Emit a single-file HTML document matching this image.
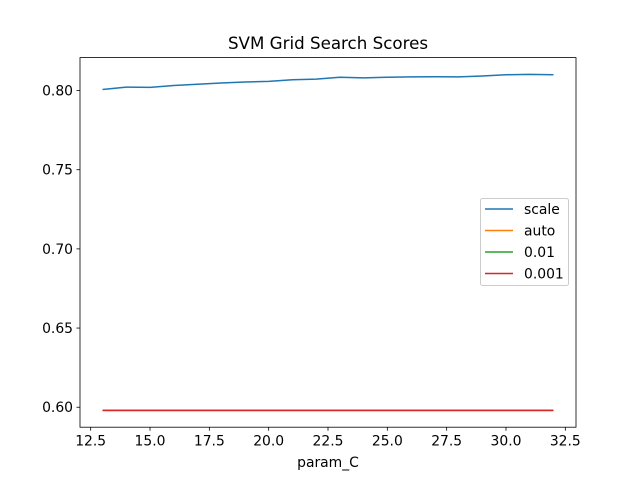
<!DOCTYPE html>
<html><head><meta charset="utf-8"><style>
body{margin:0;background:#fff}
svg text{font-family:"DejaVu Sans","Liberation Sans",sans-serif;fill:#000}
</style></head><body>
<svg id="chart" width="640" height="480" xmlns="http://www.w3.org/2000/svg">
<rect width="640" height="480" fill="#fff"/>
<text x="328" y="49" font-size="16.7" text-anchor="middle">SVM Grid Search Scores</text>
<g id="plot"></g>
<text x="328" y="467" font-size="13.9" text-anchor="middle">param_C</text>
</svg>
<script>
const params = [13,14,15,16,17,18,19,20,21,22,23,24,25,26,27,28,29,30,31,32];
const scaleScores = [0.8007,0.8022,0.8020,0.8032,0.8040,0.8048,0.8054,0.8058,0.8068,0.8072,0.8084,0.8080,0.8084,0.8086,0.8087,0.8086,0.8092,0.8100,0.8102,0.8100];
const autoScores = [0.598,0.598,0.598,0.598,0.598,0.598,0.598,0.598,0.598,0.598,0.598,0.598,0.598,0.598,0.598,0.598,0.598,0.598,0.598,0.598];
const g01Scores = [0.598,0.598,0.598,0.598,0.598,0.598,0.598,0.598,0.598,0.598,0.598,0.598,0.598,0.598,0.598,0.598,0.598,0.598,0.598,0.598];
const g001Scores = [0.598,0.598,0.598,0.598,0.598,0.598,0.598,0.598,0.598,0.598,0.598,0.598,0.598,0.598,0.598,0.598,0.598,0.598,0.598,0.598];
const seriesNames = ["scale","auto","0.01","0.001"];
const xTicks = [12.5,15.0,17.5,20.0,22.5,25.0,27.5,30.0,32.5];
const yTicks = [0.60,0.65,0.70,0.75,0.80];

const NS="http://www.w3.org/2000/svg";
const L=80,R=576,T=57.6,B=427.2;
const all=[].concat(scaleScores,autoScores,g01Scores,g001Scores);
const xmin=Math.min(...params),xmax=Math.max(...params);
const ymin=Math.min(...all),ymax=Math.max(...all);
const x0=xmin-(xmax-xmin)*0.05,x1=xmax+(xmax-xmin)*0.05;
const y0=ymin-(ymax-ymin)*0.05,y1=ymax+(ymax-ymin)*0.05;
const sx=v=>L+(v-x0)/(x1-x0)*(R-L);
const sy=v=>B-(v-y0)/(y1-y0)*(B-T);
const plot=document.getElementById('plot');
function mk(tag,attrs,parent){const e=document.createElementNS(NS,tag);for(const k in attrs)e.setAttribute(k,attrs[k]);(parent||plot).appendChild(e);return e;}
const colors=["#1f77b4","#ff7f0e","#2ca02c","#d62728"];
const series=[scaleScores,autoScores,g01Scores,g001Scores];
series.forEach((s,i)=>{
  const p=mk('polyline',{points:s.map((v,j)=>sx(params[j])+','+sy(v)).join(' '),fill:'none',stroke:colors[i],'stroke-width':1.5});
  
  
});
xTicks.forEach(t=>{
  const x=sx(t);
  const l=mk('line',{x1:x,x2:x,y1:B,y2:B+3.5,stroke:'#000','stroke-width':0.8});
  
  
  const tx=mk('text',{x:x,y:B+18.5,'font-size':13.9,'text-anchor':'middle'});
  tx.textContent=t.toFixed(1);
  
  
});
yTicks.forEach(t=>{
  const y=sy(t);
  const l=mk('line',{x1:L-3.5,x2:L,y1:y,y2:y,stroke:'#000','stroke-width':0.8});
  
  
  const tx=mk('text',{x:L-7,y:y+5,'font-size':13.9,'text-anchor':'end'});
  tx.textContent=t.toFixed(2);
  
  
});
const frame=mk('rect',{x:L,y:T,width:R-L,height:B-T,fill:'none',stroke:'#000','stroke-width':0.8});


const lg=mk('g',{});


mk('rect',{x:480.5,y:198.5,width:88,height:87,rx:2,fill:'#fff','fill-opacity':0.8,stroke:'#ccc'},lg);
seriesNames.forEach((n,i)=>{
  const y=209+i*21.5;
  const e=mk('g',{},lg);
  
  
  mk('line',{x1:485,x2:513,y1:y,y2:y,stroke:colors[i],'stroke-width':1.5},e);
  const t=mk('text',{x:524,y:y+5,'font-size':13.9},e);
  t.textContent=n;
});
</script>
</body></html>
